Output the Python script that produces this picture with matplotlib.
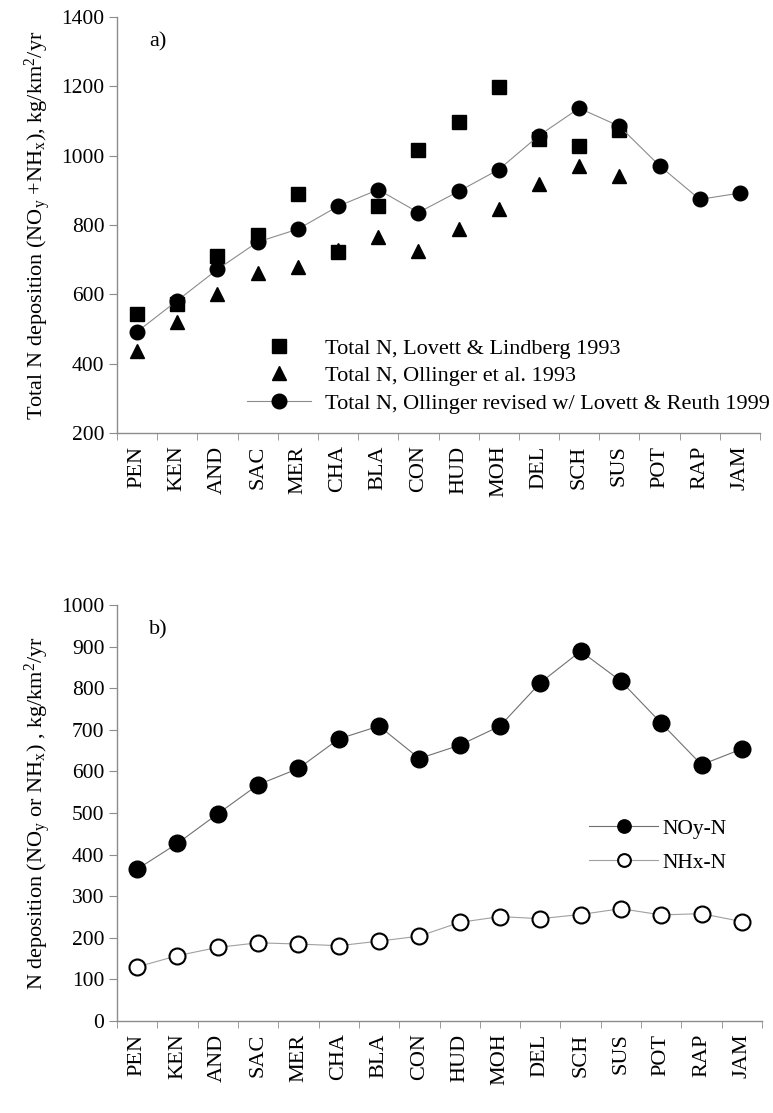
import numpy as np
import matplotlib
matplotlib.use("Agg")
import matplotlib.pyplot as plt

plt.rcParams['font.family'] = ['Liberation Serif', 'DejaVu Serif']
plt.rcParams['mathtext.fontset'] = 'custom'
plt.rcParams['mathtext.rm'] = 'Liberation Serif'
plt.rcParams['mathtext.it'] = 'Liberation Serif:italic'

sites = ['PEN', 'KEN', 'AND', 'SAC', 'MER', 'CHA', 'BLA', 'CON',
         'HUD', 'MOH', 'DEL', 'SCH', 'SUS', 'POT', 'RAP', 'JAM']

# panel a: total N deposition
lovett_lindberg = [544, 573, 710, 771, 890, 721, 854, 1016,
                   1097, 1198, 1047, 1027, 1074, np.nan, np.nan, np.nan]
ollinger_1993 = [436, 521, 600, 662, 680, 728, 764, 725,
                 789, 847, 917, 969, 942, np.nan, np.nan, np.nan]
ollinger_revised = [492, 582, 672, 751, 788, 854, 902, 836,
                    897, 960, 1058, 1137, 1085, 971, 874, 892]

# panel b: NOy and NHx deposition
noy_n = [365, 427, 498, 568, 607, 678, 709, 631,
         663, 709, 813, 889, 817, 716, 616, 654]
nhx_n = [130, 157, 177, 188, 185, 181, 192, 204,
         237, 251, 246, 256, 270, 255, 258, 239]

W, H = 773, 1113
fig = plt.figure(figsize=(W / 100, H / 100), dpi=100)
ax1 = fig.add_axes([117 / W, 1 - 433 / H, (760 - 117) / W, (433 - 17) / H])
ax2 = fig.add_axes([117 / W, 1 - 1021 / H, (762 - 117) / W, (1021 - 605) / H])

x = np.arange(len(sites))
grey = '#8c8c8c'


def style_axis(ax):
    for s in ['top', 'right']:
        ax.spines[s].set_visible(False)
    for s in ['left', 'bottom']:
        ax.spines[s].set_color(grey)
        ax.spines[s].set_linewidth(1.0)
    ax.set_xlim(-0.5, len(sites) - 0.5)
    ax.set_xticks(x)
    ax.set_xticklabels(sites, rotation=90, fontsize=16)
    ax.set_xticks(np.arange(len(sites) + 1) - 0.5, minor=True)
    ax.tick_params(axis='x', which='major', length=0, pad=9)
    ax.tick_params(axis='x', which='minor', length=5, color=grey, direction='out')
    ax.tick_params(axis='y', length=6, color=grey, direction='out', labelsize=15.5, pad=3)


# ---- panel a ----
ax1.plot(x, lovett_lindberg, 's', color='black', ms=9.5, ls='none',
         label='Total N, Lovett & Lindberg 1993')
ax1.plot(x, ollinger_1993, '^', color='black', ms=10.5, ls='none',
         label='Total N, Ollinger et al. 1993')
ax1.plot(x, ollinger_revised, '-o', color=grey, ms=10.5, lw=0.8,
         mfc='black', mec='black',
         label='Total N, Ollinger revised w/ Lovett & Reuth 1999')
ax1.set_ylim(200, 1400)
ax1.set_yticks(range(200, 1401, 200))
style_axis(ax1)
ax1.set_ylabel(r'Total N deposition (NO$_\mathrm{y}$ +NH$_\mathrm{x}$), kg/km$^2$/yr',
               fontsize=16, labelpad=6)
ax1.text(0.05, 0.93, 'a)', transform=ax1.transAxes, fontsize=16)
ax1.legend(loc='lower left', bbox_to_anchor=(0.202, 0.046), frameon=False,
           fontsize=16, handlelength=2.9, handletextpad=0.6,
           labelspacing=0.32, borderpad=0, borderaxespad=0)

# ---- panel b ----
ax2.plot(x, noy_n, '-o', color='#707070', lw=0.8, ms=12,
         mfc='black', mec='black', label='NOy-N')
ax2.plot(x, nhx_n, '-o', color='#a0a0a0', lw=0.8, ms=11.5,
         mfc='white', mec='black', mew=1.5, label='NHx-N')
ax2.set_ylim(0, 1000)
ax2.set_yticks(range(0, 1001, 100))
style_axis(ax2)
ax2.set_ylabel(r'N deposition (NO$_\mathrm{y}$ or NH$_\mathrm{x}$) , kg/km$^2$/yr',
               fontsize=16, labelpad=6)
ax2.text(0.05, 0.93, 'b)', transform=ax2.transAxes, fontsize=16)
ax2.legend(loc='lower left', bbox_to_anchor=(0.732, 0.356), frameon=False,
           fontsize=15.5, handlelength=3.2, handletextpad=0.2,
           labelspacing=0.65, borderpad=0, borderaxespad=0, markerscale=0.8)

fig.savefig('out.png', dpi=100)
